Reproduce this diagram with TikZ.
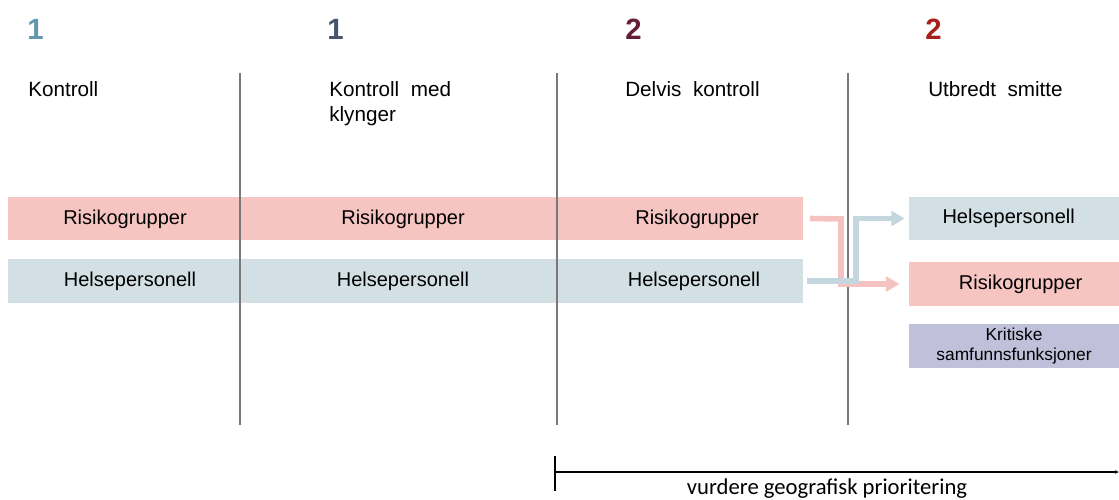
\documentclass[tikz,border=0pt]{standalone}
\usepackage{fontspec}
\setmainfont{Liberation Sans}
\newfontfamily\calibrifont{Carlito}
\usetikzlibrary{arrows.meta}

\definecolor{riskpink}{RGB}{246,196,193}
\definecolor{helseblue}{RGB}{210,224,229}
\definecolor{kritpurple}{RGB}{193,192,218}
\definecolor{pinkline}{RGB}{244,194,192}
\definecolor{blueline}{RGB}{196,215,222}
\definecolor{numteal}{RGB}{99,151,171}
\definecolor{numslate}{RGB}{70,86,108}
\definecolor{nummaroon}{RGB}{102,30,56}
\definecolor{numred}{RGB}{166,32,30}
\definecolor{sepgray}{RGB}{120,120,120}

\begin{document}
\begin{tikzpicture}[x=0.75pt,y=0.75pt,yscale=-1,xscale=1,
    phasenum/.style={anchor=base west,inner sep=0pt,font=\fontsize{22}{22}\selectfont\bfseries},
    phasehead/.style={anchor=base west,inner sep=0pt,align=left,font=\fontsize{15.5}{18.75}\selectfont},
    barbox/.style={inner sep=0pt,minimum height=32.5pt},
    bartext/.style={inner sep=0pt,font=\fontsize{15}{15}\selectfont},
    sidebox/.style={inner sep=0pt,minimum width=157.5pt,minimum height=32.5pt,font=\fontsize{15}{15}\selectfont},
    seprule/.style={draw=sepgray,line width=0.9pt},
    flowarrow/.style={line width=4.2pt,-{Triangle[length=10pt,width=11pt]}}]
\useasboundingbox (0,0) rectangle (1119,499);

%Shape: Rectangle (bars)
\node [barbox,fill=riskpink,minimum width=174pt] (risk1) at (124,218.5) {};
\node [barbox,fill=riskpink,minimum width=237.75pt] (risk2) at (398.5,218.5) {};
\node [barbox,fill=riskpink,minimum width=184.5pt] (risk3) at (680,218.5) {};
\node [barbox,fill=helseblue,minimum width=174pt] (helse1) at (124,281) {};
\node [barbox,fill=helseblue,minimum width=237.75pt] (helse2) at (398.5,281) {};
\node [barbox,fill=helseblue,minimum width=184.5pt] (helse3) at (680,281) {};

% Text Node
\node [bartext] (riskT1) at (125,219) {Risikogrupper};
\node [bartext] (riskT2) at (403,219) {Risikogrupper};
\node [bartext] (riskT3) at (697,219) {Risikogrupper};
\node [bartext] (helseT1) at (130,281) {Helsepersonell};
\node [bartext] (helseT2) at (403,281) {Helsepersonell};
\node [bartext] (helseT3) at (694,281) {Helsepersonell};

%Shape: Rectangle (right column)
\node [sidebox,fill=helseblue] (helseR) at (1014,218.5) {\hspace*{-8pt}Helsepersonell};
\node [sidebox,fill=riskpink] (riskR) at (1014,284) {\hspace*{10pt}Risikogrupper};
\node [sidebox,fill=kritpurple,align=center,font=\fontsize{13}{15}\selectfont] (kritR) at (1014,346) {Kritiske\\samfunnsfunksjoner};

%Straight Lines
\draw [seprule] (240,73) -- (240,425) ;
\draw [seprule] (557,73) -- (557,425) ;
\draw [seprule] (848,73) -- (848,425) ;

%Connectors
\draw [flowarrow,draw=pinkline] ([xshift=5pt]risk3.east) -- (841,219) |- ([xshift=-7pt]riskR.west) ;
\draw [flowarrow,draw=blueline] ([xshift=3pt]helse3.east) -- (856,281) |- ([xshift=-3pt]helseR.west) ;

% Text Node
\node [phasenum,text=numteal] (num1) at (27,40) {1};
\node [phasenum,text=numslate] (num2) at (327,40) {1};
\node [phasenum,text=nummaroon] (num3) at (625,40) {2};
\node [phasenum,text=numred] (num4) at (925,40) {2};

% Text Node
\node [phasehead] (head1) at (28,97) {Kontroll};
\node [phasehead] (head2) at (329,122) {Kontroll\ \ med\\klynger};
\node [phasehead] (head3) at (625,97) {Delvis\ \ kontroll};
\node [phasehead] (head4) at (928,97) {Utbredt\ \ smitte};

%Straight Lines (geografisk)
\coordinate (geoL) at (555,472);
\coordinate (geoR) at (1119,472);
\draw [line width=1.5pt] (555,456) -- (555,491) ;
\draw [line width=1.5pt,-{Latex[length=3pt,width=3pt]}] (geoL) -- (geoR) ;
\node [anchor=base,inner sep=0pt,font=\calibrifont\fontsize{17}{17}\selectfont] (geoT) at (827,494) {vurdere geografisk prioritering};

\end{tikzpicture}
\end{document}
